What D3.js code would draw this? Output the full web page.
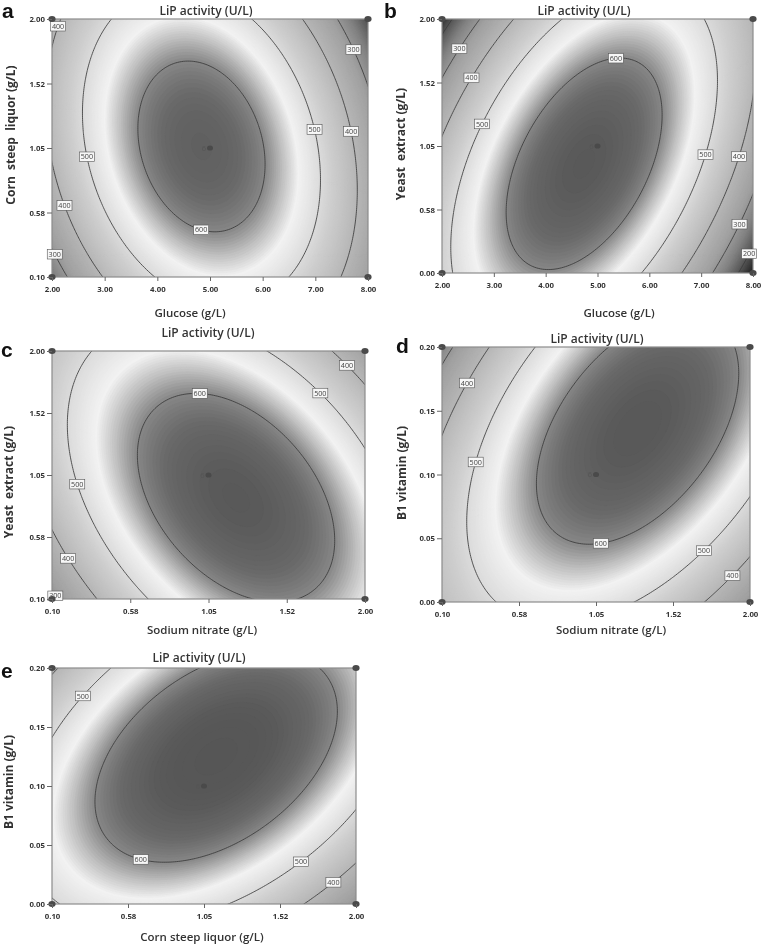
<!DOCTYPE html>
<html><head><meta charset="utf-8">
<script src="https://cdn.jsdelivr.net/npm/d3@7"></script>
<style>body{margin:0;background:#fff} svg{will-change:transform}</style>
</head><body>
<svg id="chart" width="762" height="945"></svg>
<script>
// ---------------- DATA ----------------
const panelIds = ["a", "b", "c", "d", "e"];
const chartTitle = "LiP activity (U/L)";
const xTitles = ["Glucose (g/L)", "Glucose (g/L)", "Sodium nitrate (g/L)", "Sodium nitrate (g/L)", "Corn steep liquor (g/L)"];
const yTitles = ["Corn  steep  liquor (g/L)", "Yeast  extract (g/L)", "Yeast  extract (g/L)", "B1 vitamin (g/L)", "B1 vitamin (g/L)"];
const glucoseTicks = ["2.00", "3.00", "4.00", "5.00", "6.00", "7.00", "8.00"];
const levelTicks = ["0.10", "0.58", "1.05", "1.52", "2.00"];
const yeastTicks = ["0.00", "0.58", "1.05", "1.52", "2.00"];
const vitaminTicks = ["0.00", "0.05", "0.10", "0.15", "0.20"];
const xTickLabels = [glucoseTicks, glucoseTicks, levelTicks, levelTicks, levelTicks];
const yTickLabels = [levelTicks, yeastTicks, levelTicks, vitaminTicks, vitaminTicks];

// quadratic response surface per panel (coded units -1..1)
const peakActivity = [640, 652, 652, 654, 665];
const optimumX = [-0.054, -0.086, 0.176, 0.27, 0.08];
const optimumY = [0.012, -0.14, -0.184, 0.36, 0.25];
const curvatureX = [258, 262, 157, 162, 125];
const curvatureY = [95.5, 95, 88, 85, 99];
const interaction = [65.6, -145, 96, -112, -95];
const contourLevels = [200, 300, 400, 500, 600];
const centerRuns = 6;

// grayscale rendering of the surface colour map
const shadeStops = [100, 150, 200, 260, 320, 400, 470, 520, 548, 575, 600, 625, 650, 690];
const shadeGray  = [15, 40, 85, 130, 160, 182, 205, 228, 242, 192, 135, 105, 90, 78];

// ---------------- LAYOUT ----------------
const layout = [
  {x0: 52, x1: 368, y0: 19, y1: 277, letter: [2, 18], title: [206, 15], xTitle: [190, 317], yTitle: [15, 135],
   labels: [[400, -0.948, 0.94], [300, 0.874, 0.739], [500, 0.646, 0.142], [400, 0.867, 0.119], [500, -0.77, -0.067], [400, -0.89, -0.44], [600, -0.05, -0.633], [300, -0.948, -0.81]]},
  {x0: 442, x1: 753, y0: 19, y1: 273, letter: [384, 18], title: [584, 15], xTitle: [619, 317], yTitle: [405, 144],
   labels: [[300, -0.878, 0.766], [400, -0.80, 0.535], [500, -0.723, 0.16], [600, 0.119, 0.713], [500, 0.655, -0.06], [400, 0.858, -0.06], [300, 0.858, -0.586], [200, 0.933, -0.817]]},
  {x0: 52, x1: 365, y0: 351, y1: 599, letter: [1, 357], title: [208, 337], xTitle: [202, 634], yTitle: [13, 482],
   labels: [[400, 0.887, 0.885], [500, 0.713, 0.657], [600, -0.058, 0.684], [500, -0.802, -0.062], [400, -0.872, -0.652], [300, -0.94, -0.94]]},
  {x0: 442, x1: 750, y0: 347, y1: 602, letter: [396, 353], title: [597, 343], xTitle: [611, 634], yTitle: [406, 473],
   labels: [[400, -0.867, 0.739], [500, -0.809, 0.113], [600, 0.02, -0.483], [500, 0.67, -0.567], [400, 0.855, -0.763]]},
  {x0: 52, x1: 356, y0: 668, y1: 904, letter: [1, 678], title: [199, 662], xTitle: [202, 941], yTitle: [13, 782],
   labels: [[500, -0.81, 0.788], [600, -0.405, -0.582], [500, 0.62, -0.625], [400, 0.85, -0.814]]}
];

const FONT = "'Open Sans', 'DejaVu Sans', sans-serif";
const svg = d3.select("#chart");
const shade = d3.scaleLinear().domain(shadeStops).range(shadeGray.map(g => d3.rgb(g, g, g))).clamp(true);

function response(i, u, v) {
  const du = u - optimumX[i], dv = v - optimumY[i];
  return peakActivity[i] - (curvatureX[i] * du * du + curvatureY[i] * dv * dv + interaction[i] * du * dv);
}

const EXT = 1.05, NX = 170, NY = 140;

panelIds.forEach((id, i) => {
  const L = layout[i];
  const xs = d3.scaleLinear().domain([-1, 1]).range([L.x0, L.x1]);
  const ys = d3.scaleLinear().domain([-1, 1]).range([L.y1, L.y0]);
  const g = svg.append("g");

  const values = new Float64Array(NX * NY);
  for (let r = 0; r < NY; r++) {
    const v = EXT - 2 * EXT * r / (NY - 1);
    for (let c = 0; c < NX; c++) {
      const u = -EXT + 2 * EXT * c / (NX - 1);
      values[r * NX + c] = response(i, u, v);
    }
  }
  const gu = cx => -EXT + 2 * EXT * (cx - 0.5) / (NX - 1);
  const gv = cy => EXT - 2 * EXT * (cy - 0.5) / (NY - 1);
  const path = d3.geoPath(d3.geoTransform({
    point(cx, cy) { this.stream.point(xs(gu(cx)), ys(gv(cy))); }
  }));

  const clipId = "clip" + id;
  g.append("clipPath").attr("id", clipId).append("rect")
    .attr("x", L.x0).attr("y", L.y0).attr("width", L.x1 - L.x0).attr("height", L.y1 - L.y0);
  const plot = g.append("g").attr("clip-path", `url(#${clipId})`);

  // shaded bands
  const step = 3;
  const bandThresholds = d3.range(0, 720, step);
  const bands = d3.contours().size([NX, NY]).thresholds(bandThresholds)(values);
  plot.selectAll("path.band").data(bands).join("path")
    .attr("class", "band")
    .attr("d", path)
    .attr("fill", d => shade(d.value + step / 2))
    .attr("stroke", d => shade(d.value + step / 2))
    .attr("stroke-width", 0.3);

  // contour lines
  const lines = d3.contours().size([NX, NY]).thresholds(contourLevels)(values);
  plot.selectAll("path.line").data(lines).join("path")
    .attr("class", "line")
    .attr("d", path)
    .attr("fill", "none")
    .attr("stroke", "#3a3a3a")
    .attr("stroke-width", 0.85);

  // plot border
  g.append("rect").attr("x", L.x0).attr("y", L.y0).attr("width", L.x1 - L.x0).attr("height", L.y1 - L.y0)
    .attr("fill", "none").attr("stroke", "#8c8c8c").attr("stroke-width", 1.2);

  // contour labels: nearest vertex on the contour of that level
  L.labels.forEach(([lev, tu, tv]) => {
    const geom = lines.find(d => d.value === lev);
    if (!geom) return;
    const tx = xs(tu), ty = ys(tv);
    let best = null, bd = Infinity;
    geom.coordinates.forEach(poly => poly.forEach(ring => ring.forEach(([cx, cy]) => {
      const px = xs(gu(cx)), py = ys(gv(cy));
      if (px < L.x0 + 1 || px > L.x1 - 1 || py < L.y0 + 1 || py > L.y1 - 1) return;
      const dd = (px - tx) ** 2 + (py - ty) ** 2;
      if (dd < bd) { bd = dd; best = [px, py]; }
    })));
    if (!best) return;
    const lg = g.append("g").attr("transform", `translate(${best[0]},${best[1]})`);
    lg.append("rect").attr("x", -7.5).attr("y", -4.8).attr("width", 15).attr("height", 9.6)
      .attr("fill", "#f7f7f7").attr("stroke", "#555").attr("stroke-width", 0.6);
    lg.append("text").attr("text-anchor", "middle").attr("y", 2.6)
      .attr("font-family", FONT).attr("font-size", 7.2).attr("fill", "#444").text(lev);
  });

  // design points: corners + centre
  const corners = [[-1, -1], [-1, 1], [1, -1], [1, 1]];
  g.selectAll("ellipse.dp").data(corners).join("ellipse").attr("class", "dp")
    .attr("cx", d => xs(d[0])).attr("cy", d => ys(d[1])).attr("rx", 3.6).attr("ry", 3)
    .attr("fill", "#4a4a4a");
  g.append("ellipse").attr("cx", xs(0)).attr("cy", ys(0)).attr("rx", 3).attr("ry", 2.6).attr("fill", "#4a4a4a");
  g.append("text").attr("x", xs(0) - 4).attr("y", ys(0) + 2.5).attr("text-anchor", "end")
    .attr("font-family", FONT).attr("font-size", 7.5).attr("fill", "#555").text(centerRuns);

  // axes
  const xl = xTickLabels[i], yl = yTickLabels[i];
  const xt = d3.scaleLinear().domain([0, xl.length - 1]).range([L.x0, L.x1]);
  const yt = d3.scaleLinear().domain([0, yl.length - 1]).range([L.y1, L.y0]);
  const xAxis = g.append("g").attr("transform", `translate(0,${L.y1})`)
    .call(d3.axisBottom(xt).tickValues(d3.range(xl.length)).tickFormat(k => xl[k]).tickSize(4).tickPadding(5));
  const yAxis = g.append("g").attr("transform", `translate(${L.x0},0)`)
    .call(d3.axisLeft(yt).tickValues(d3.range(yl.length)).tickFormat(k => yl[k]).tickSize(5).tickPadding(2));
  [xAxis, yAxis].forEach(a => {
    a.select(".domain").remove();
    a.selectAll(".tick line").attr("stroke", "#666");
    a.selectAll(".tick text").attr("font-family", FONT).attr("font-size", 7.8).attr("font-weight", 700).attr("fill", "#333");
  });

  // texts
  g.append("text").attr("x", L.letter[0]).attr("y", L.letter[1])
    .attr("font-family", "'Liberation Sans', Arial, sans-serif").attr("font-weight", 700).attr("font-size", 21)
    .attr("fill", "#111").text(id);
  g.append("text").attr("x", L.title[0]).attr("y", L.title[1]).attr("text-anchor", "middle")
    .attr("font-family", FONT).attr("font-weight", 600).attr("font-size", 12).attr("fill", "#333").text(chartTitle);
  g.append("text").attr("x", L.xTitle[0]).attr("y", L.xTitle[1]).attr("text-anchor", "middle")
    .attr("font-family", FONT).attr("font-weight", 600).attr("font-size", 11.5).attr("fill", "#333").text(xTitles[i]);
  g.append("text").attr("transform", `translate(${L.yTitle[0]},${L.yTitle[1]}) rotate(-90)`)
    .attr("text-anchor", "middle").attr("font-family", FONT).attr("font-weight", 700).attr("font-size", 12)
    .attr("fill", "#333").attr("xml:space", "preserve").style("white-space", "pre").text(yTitles[i]);
});
</script>
</body></html>
